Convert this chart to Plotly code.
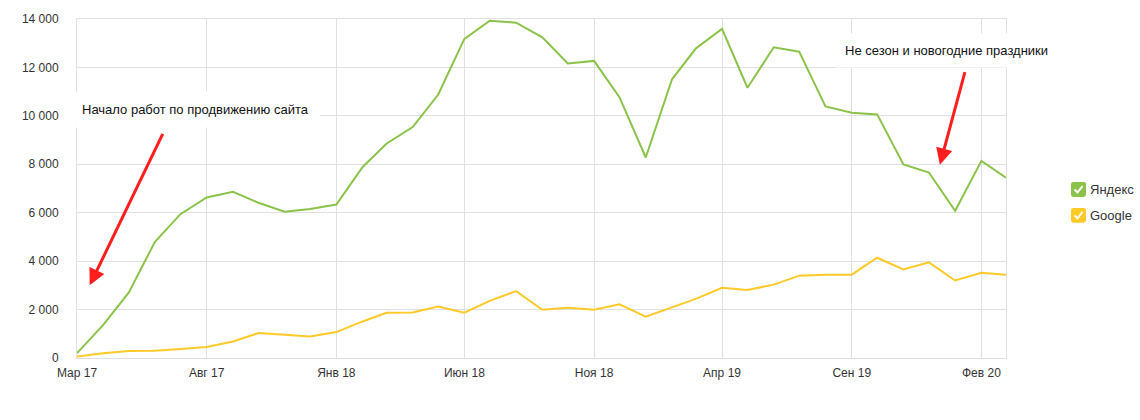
import plotly.graph_objects as go
import pandas as pd

# ---- data ----
months = pd.date_range("2017-03-01", "2020-03-01", freq="MS")
yandex = [200, 1370, 2700, 4800, 5940, 6630, 6860, 6410, 6040, 6150, 6340,
          7890, 8850, 9540, 10870, 13180, 13930, 13850, 13240, 12160, 12270,
          10770, 8280, 11510, 12780, 13590, 11160, 12830, 12650, 10390, 10130,
          10060, 7990, 7660, 6080, 8140, 7450]
google = [60, 200, 290, 300, 370, 450, 680, 1030, 960, 890, 1070,
          1510, 1870, 1880, 2130, 1870, 2360, 2760, 1990, 2080, 1990,
          2220, 1710, 2100, 2440, 2900, 2810, 3030, 3400, 3440, 3440,
          4140, 3660, 3950, 3200, 3520, 3440]
tick_vals = ["2017-03-01", "2017-08-01", "2018-01-01", "2018-06-01",
             "2018-11-01", "2019-04-01", "2019-09-01", "2020-02-01"]
tick_text = ["Мар 17", "Авг 17", "Янв 18", "Июн 18", "Ноя 18", "Апр 19", "Сен 19", "Фев 20"]
series_names = ["Яндекс", "Google"]
colors = ["#8BC34A", "#FFCA28"]

W, H = 1140, 420
ML, MR, MT, MB = 77, 134, 17, 62
PW, PH = W - ML - MR, H - MT - MB


def px(xp):
    return (xp - ML) / PW


def py(yp):
    return (H - MB - yp) / PH


fig = go.Figure()
for name, vals, col in zip(series_names, [yandex, google], colors):
    fig.add_trace(go.Scatter(x=months, y=vals, mode="lines", name=name,
                             line=dict(color=col, width=2), showlegend=False))

font = "Liberation Sans, Arial, sans-serif"
grid = "#e0e0e0"

annotations = [
    dict(x="2017-07-19", y=10250, xref="x", yref="y", text="Начало работ по продвижению сайта",
         showarrow=False, bgcolor="white", borderpad=10,
         font=dict(family=font, size=13, color="#111")),
    dict(x="2019-12-22", y=12700, xref="x", yref="y", text="Не сезон и новогодние праздники",
         showarrow=False, bgcolor="white", borderpad=9,
         font=dict(family=font, size=13, color="#111")),
    dict(x="2017-03-16", y=3000, ax="2017-06-11", ay=9320, xref="x", yref="y",
         axref="x", ayref="y", text="", showarrow=True, arrowhead=2, arrowsize=1.1,
         arrowwidth=3, arrowcolor="#FF1E1E", standoff=0),
    dict(x="2019-12-14", y=7980, ax="2020-01-13", ay=11870, xref="x", yref="y",
         axref="x", ayref="y", text="", showarrow=True, arrowhead=2, arrowsize=1.1,
         arrowwidth=3, arrowcolor="#FF1E1E", standoff=0),
]

# custom legend (checkbox style)
shapes = []
legend_rows = [188.5, 214.5]
for name, col, yc in zip(series_names, colors, legend_rows):
    x0, x1 = 1071, 1086
    y0, y1 = yc - 7.5, yc + 7.5
    r = 2.5
    path = (f"M {px(x0 + r)} {py(y0)} L {px(x1 - r)} {py(y0)} Q {px(x1)} {py(y0)} {px(x1)} {py(y0 + r)} "
            f"L {px(x1)} {py(y1 - r)} Q {px(x1)} {py(y1)} {px(x1 - r)} {py(y1)} "
            f"L {px(x0 + r)} {py(y1)} Q {px(x0)} {py(y1)} {px(x0)} {py(y1 - r)} "
            f"L {px(x0)} {py(y0 + r)} Q {px(x0)} {py(y0)} {px(x0 + r)} {py(y0)} Z")
    shapes.append(dict(type="path", xref="paper", yref="paper", path=path,
                       fillcolor=col, line=dict(width=0)))
    chk = f"M {px(x0 + 3.5)} {py(yc)} L {px(x0 + 6.5)} {py(yc + 3)} L {px(x0 + 11.5)} {py(yc - 3.5)}"
    shapes.append(dict(type="path", xref="paper", yref="paper", path=chk,
                       line=dict(color="white", width=2)))
    annotations.append(dict(x=px(1088), y=py(yc), xref="paper", yref="paper", text=name,
                            showarrow=False, xanchor="left", yanchor="middle",
                            font=dict(family=font, size=13, color="#333")))

fig.update_layout(
    width=W, height=H,
    margin=dict(l=ML, r=MR, t=MT, b=MB),
    paper_bgcolor="white", plot_bgcolor="white",
    separators=". ",
    font=dict(family=font, size=12, color="#333"),
    annotations=annotations,
    shapes=shapes,
    hovermode="x unified",
)
fig.update_xaxes(
    type="date", range=["2017-03-01", "2020-03-01"],
    tickvals=tick_vals, ticktext=tick_text,
    showgrid=True, gridcolor=grid, gridwidth=1,
    showline=True, linecolor=grid, mirror=True,
    ticks="", ticklabelstandoff=4,
    tickfont=dict(family=font, size=12, color="#333"),
    zeroline=False,
)
fig.update_yaxes(
    range=[0, 14000], dtick=2000, tick0=0, tickformat=",d",
    showgrid=True, gridcolor=grid, gridwidth=1,
    showline=True, linecolor=grid, mirror=True,
    ticks="", ticklabelstandoff=15,
    tickfont=dict(family=font, size=12, color="#333"),
    zeroline=False,
)

fig.write_html("out.html")
